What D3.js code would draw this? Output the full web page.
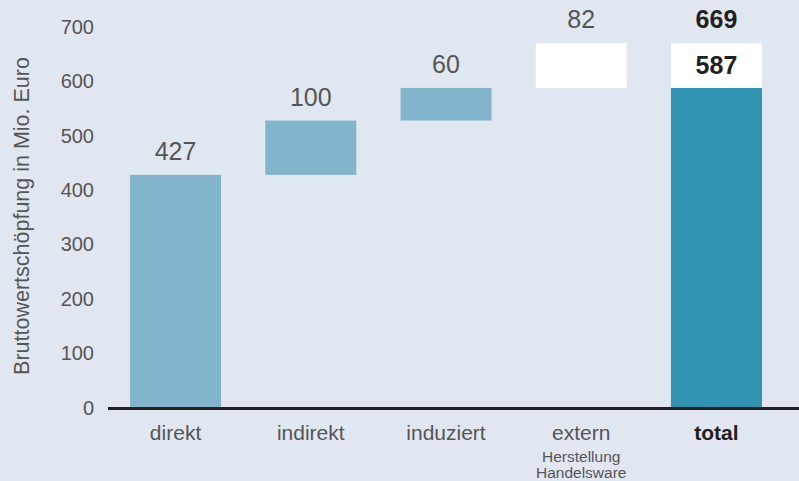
<!DOCTYPE html>
<html>
<head>
<meta charset="utf-8">
<script src="https://cdn.jsdelivr.net/npm/d3@7"></script>
<style>
  body { margin: 0; background: #e1e7f0; }
  svg text { font-family: "Liberation Sans", Arial, Helvetica, sans-serif; }
</style>
</head>
<body>
<div id="chart"></div>
<script>
// chart data
var categories = ["direkt", "indirekt", "induziert", "extern", "total"];
var subLabels = [[], [], [], ["Herstellung", "Handelsware"], []];
var increments = [427, 100, 60, 82];
var yTicks = [0, 100, 200, 300, 400, 500, 600, 700];
var yLabel = "Bruttowertschöpfung in Mio. Euro";

var width = 799, height = 481;

var svg = d3.select("#chart")
  .append("svg")
  .attr("width", width)
  .attr("height", height);

svg.append("rect").attr("width", width).attr("height", height).attr("fill", "#e1e7f0");

// scales
var x = d3.scaleBand()
  .domain(categories)
  .range([108, 784])
  .paddingInner(0.327)
  .paddingOuter(0.163);

var y = d3.scaleLinear().domain([0, 700]).range([407, 26.5]);

// build waterfall segments from the increments
var segs = [];
var run = 0;
increments.forEach(function (v, i) {
  segs.push({ cat: categories[i], from: run, to: run + v, value: v, white: i === 3 });
  run += v;
});
var internal = d3.sum(increments.slice(0, 3));
var total = run;

// y axis (labels only)
var yAxis = svg.append("g")
  .attr("transform", "translate(94,0)")
  .call(d3.axisLeft(y).tickValues(yTicks).tickSize(0).tickPadding(0));
yAxis.select(".domain").remove();
yAxis.selectAll("text")
  .attr("font-size", "20px")
  .attr("fill", "#555")
  .attr("dy", "0.35em");

svg.append("text")
  .attr("transform", "translate(29,216) rotate(-90)")
  .attr("text-anchor", "middle")
  .attr("font-size", "21.5px")
  .attr("fill", "#555")
  .text(yLabel);

// waterfall bars
svg.selectAll("rect.step")
  .data(segs)
  .enter()
  .append("rect")
  .attr("class", "step")
  .attr("x", function (d) { return x(d.cat); })
  .attr("y", function (d) { return y(d.to); })
  .attr("width", x.bandwidth())
  .attr("height", function (d) { return y(d.from) - y(d.to); })
  .attr("fill", function (d) { return d.white ? "#ffffff" : "#82b5cc"; });

svg.selectAll("text.val")
  .data(segs)
  .enter()
  .append("text")
  .attr("class", "val")
  .attr("x", function (d) { return x(d.cat) + x.bandwidth() / 2; })
  .attr("y", function (d) { return y(d.to) - 15; })
  .attr("text-anchor", "middle")
  .attr("font-size", "25px")
  .attr("fill", "#555")
  .text(function (d) { return d.value; });

// total bar: internal part + external part
var tx = x("total");
svg.append("rect")
  .attr("x", tx)
  .attr("y", y(internal))
  .attr("width", x.bandwidth())
  .attr("height", y(0) - y(internal))
  .attr("fill", "#2f93b1");
svg.append("rect")
  .attr("x", tx)
  .attr("y", y(total))
  .attr("width", x.bandwidth())
  .attr("height", y(internal) - y(total))
  .attr("fill", "#ffffff");

svg.append("text")
  .attr("x", tx + x.bandwidth() / 2)
  .attr("y", y(internal) - 14)
  .attr("text-anchor", "middle")
  .attr("font-size", "25px")
  .attr("font-weight", "bold")
  .attr("fill", "#231f20")
  .text(internal);
svg.append("text")
  .attr("x", tx + x.bandwidth() / 2)
  .attr("y", y(total) - 15)
  .attr("text-anchor", "middle")
  .attr("font-size", "25px")
  .attr("font-weight", "bold")
  .attr("fill", "#231f20")
  .text(total);

// baseline
svg.append("line")
  .attr("x1", 108)
  .attr("x2", width)
  .attr("y1", y(0) + 1.5)
  .attr("y2", y(0) + 1.5)
  .attr("stroke", "#231f20")
  .attr("stroke-width", 3);

// category labels
var xl = svg.selectAll("g.cat")
  .data(categories)
  .enter()
  .append("g")
  .attr("class", "cat")
  .attr("transform", function (d) { return "translate(" + (x(d) + x.bandwidth() / 2) + ",0)"; });

xl.append("text")
  .attr("y", 440)
  .attr("text-anchor", "middle")
  .attr("font-size", "21px")
  .attr("font-weight", function (d) { return d === "total" ? "bold" : "normal"; })
  .attr("fill", function (d) { return d === "total" ? "#231f20" : "#555"; })
  .text(function (d) { return d; });

xl.each(function (d, i) {
  var g = d3.select(this);
  subLabels[i].forEach(function (s, j) {
    g.append("text")
      .attr("y", 462 + j * 16)
      .attr("text-anchor", "middle")
      .attr("font-size", "15.5px")
      .attr("fill", "#555")
      .text(s);
  });
});
</script>
</body>
</html>
